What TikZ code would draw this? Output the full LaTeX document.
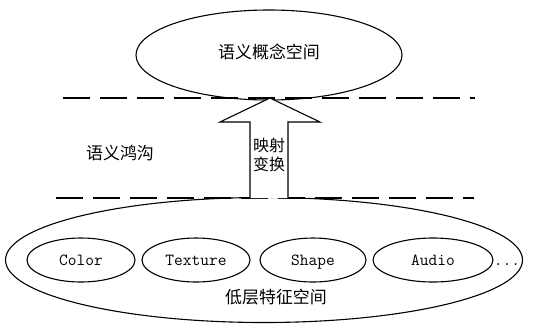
\documentclass[tikz,border=0pt]{standalone}
\usepackage{fontspec}
\newfontfamily\cjk{Noto Sans CJK SC}
\usetikzlibrary{shapes.geometric}
\begin{document}
\begin{tikzpicture}[x=1bp,y=-1bp,
  sp/.style={draw,ellipse,line width=1.1bp,inner sep=0pt},
  feat/.style={draw,ellipse,line width=1.1bp,minimum width=108bp,minimum height=44bp,inner sep=0pt,text height=10bp,text depth=0bp,font=\ttfamily\fontsize{17}{17}\selectfont},
  gap/.style={line width=2.4bp,dash pattern=on 27bp off 10bp},
  lbl/.style={font=\cjk\fontsize{17}{17}\selectfont,inner sep=0pt}]
\useasboundingbox (0,0) rectangle (556,324);
% top space
\node[sp,minimum width=266bp,minimum height=90bp] (top) at (269,55) {};
\node[lbl] (toplbl) at (269,52) {语义概念空间};
% bottom space
\node[sp,minimum width=517bp,minimum height=125bp] (bot) at (264,260) {};
\node[lbl] (botlbl) at (276,297) {低层特征空间};
% dashed lines
\coordinate (t1) at (63,98); \coordinate (t2) at (475,98);
\coordinate (b1) at (56,198); \coordinate (b2) at (474,198);
\draw[gap] (t1) -- (t2);
\draw[gap] (b1) -- (b2);
% gap label
\node[lbl] (gaplbl) at (120,153) {语义鸿沟};
% mapping arrow
\coordinate (tip) at (270,98);
\coordinate (hl) at (220,122); \coordinate (hr) at (320,122);
\coordinate (sl) at (250,122); \coordinate (sr) at (288,122);
\coordinate (bl) at (250,198); \coordinate (br) at (288,198);
\draw[line width=1.1bp,fill=white] (bl) -- (sl) -- (hl) -- (tip) -- (hr) -- (sr) -- (br);
\node[lbl,font=\cjk\fontsize{16}{19}\selectfont,align=center] (map) at (269,155) {映射\\变换};
% features
\node[feat,minimum width=108bp] (color) at (81,260) {Color};
\node[feat,minimum width=108bp] (texture) at (196,260) {Texture};
\node[feat,minimum width=106bp] (shape) at (313,260) {Shape};
\node[feat,minimum width=120bp] (audio) at (433,260) {Audio};
\node[font=\ttfamily\fontsize{17}{17}\selectfont,inner sep=0pt,text height=10bp,text depth=0bp] (dots) at (507,260) {...};
\end{tikzpicture}
\end{document}
